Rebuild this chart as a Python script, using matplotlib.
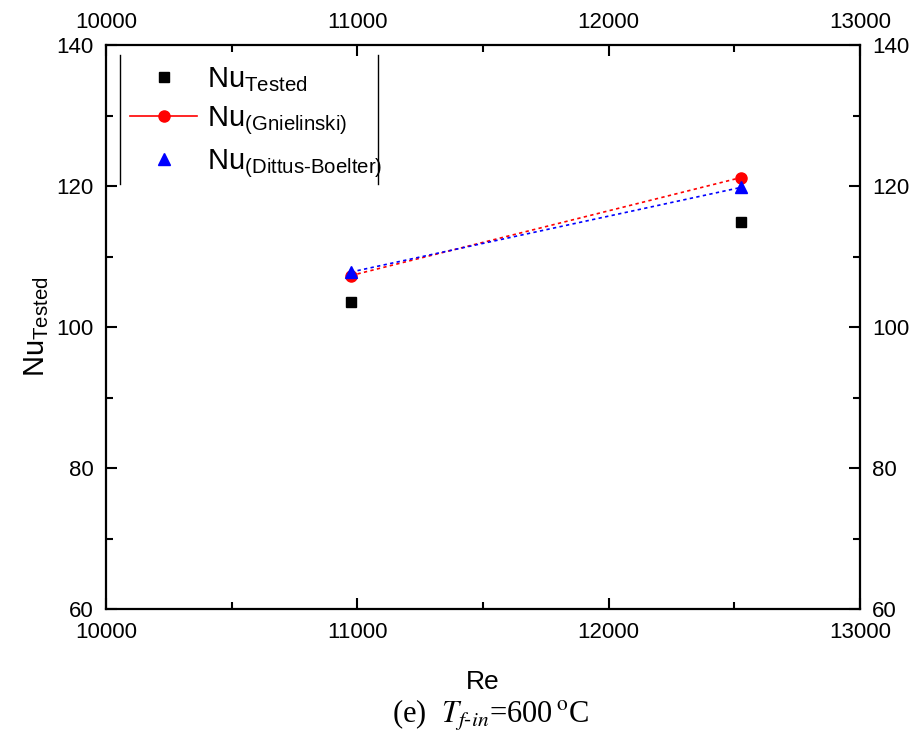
import matplotlib
matplotlib.use("Agg")
import matplotlib.pyplot as plt
from matplotlib.lines import Line2D
from matplotlib.ticker import MultipleLocator

plt.rcParams['font.family'] = ['Liberation Sans', 'DejaVu Sans']
plt.rcParams['mathtext.fontset'] = 'custom'
plt.rcParams['mathtext.rm'] = 'Liberation Sans'
plt.rcParams['mathtext.it'] = 'Liberation Sans:italic'

re_vals = [10975, 12527]
nu_tested = [103.5, 114.9]
nu_gnielinski = [107.3, 121.2]
nu_dittus = [107.8, 119.8]

x_ticks = [10000, 11000, 12000, 13000]
y_ticks = [60, 80, 100, 120, 140]

fig = plt.figure(figsize=(9.17, 7.32), dpi=100)
ax = fig.add_axes([0.1156, 0.168, 0.822, 0.7705])

ax.plot(re_vals, nu_gnielinski, color='red', linestyle=(0, (2, 2)), lw=1.2, marker='o', ms=8, zorder=3)
ax.plot(re_vals, nu_dittus, color='blue', linestyle=(0, (2, 2)), lw=1.2, marker='^', ms=8, zorder=4)
ax.plot(re_vals, nu_tested, color='black', linestyle='none', marker='s', ms=7, zorder=5)

ax.set_xlim(10000, 13000)
ax.set_ylim(60, 140)
ax.set_xticks(x_ticks)
ax.set_yticks(y_ticks)
ax.xaxis.set_minor_locator(MultipleLocator(500))
ax.yaxis.set_minor_locator(MultipleLocator(10))
ax.tick_params(which='both', direction='in', top=True, right=True,
               labeltop=True, labelright=True, labelsize=16, width=1.5)
ax.tick_params(which='major', length=8)
ax.tick_params(which='minor', length=5)
ax.tick_params(axis='x', which='major', pad=9)
ax.tick_params(axis='y', which='major', pad=9)
for s in ax.spines.values():
    s.set_linewidth(1.6)

ax.set_xlabel('Re', fontsize=19, labelpad=20)
ax.set_ylabel(r'Nu$_{\mathrm{Tested}}$', fontsize=21, labelpad=4)

handles = [
    Line2D([], [], color='black', marker='s', linestyle='none', ms=7),
    Line2D([], [], color='red', marker='o', linestyle='-', lw=1.2, ms=8),
    Line2D([], [], color='blue', marker='^', linestyle='none', ms=8),
]
labels = [r'Nu$_{\mathrm{Tested}}$', r'Nu$_{\mathrm{(Gnielinski)}}$',
          r'Nu$_{\mathrm{(Dittus\text{-}Boelter)}}$']
leg = ax.legend(handles, labels, loc='upper left', bbox_to_anchor=(0.005, 1.0),
                frameon=False, fontsize=21, handlelength=2.3, labelspacing=0.35,
                borderaxespad=0.3, handletextpad=0.35)

# vertical bars of the legend box
ax.plot([0.019, 0.019], [0.754, 0.982], transform=ax.transAxes, color='black', lw=1.0, clip_on=False)
ax.plot([0.361, 0.361], [0.754, 0.982], transform=ax.transAxes, color='black', lw=1.0, clip_on=False)

fig.text(0.535, 0.013, r'(e)  $T_{f\text{-}in}$=600$\,^{\mathrm{o}}$C', ha='center', va='baseline',
         fontsize=22, family='Liberation Serif', math_fontfamily='stix')

fig.savefig('out.png', dpi=100)
